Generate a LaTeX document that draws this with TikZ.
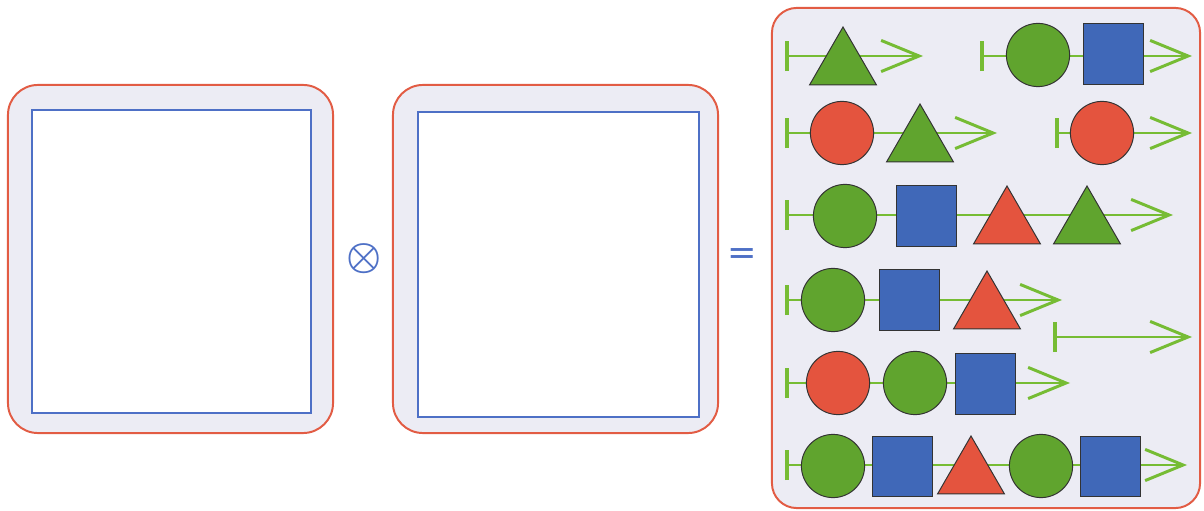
\documentclass[tikz,border=0pt]{standalone}
\usepackage{fontspec}
\usepackage{tikz}
\usetikzlibrary{shapes.geometric,arrows.meta}

\newfontfamily\opfont{DejaVu Sans}

\definecolor{bordred}{RGB}{226,92,68}
\definecolor{panelgray}{RGB}{236,236,244}
\definecolor{innerblue}{RGB}{78,112,198}
\definecolor{flowgreen}{RGB}{118,188,52}
\definecolor{sgreen}{RGB}{96,164,46}
\definecolor{sred}{RGB}{228,84,62}
\definecolor{sblue}{RGB}{64,104,184}

\begin{document}
\begin{tikzpicture}[
  x=0.025cm, y=-0.025cm,
  panel/.style={rectangle, rounded corners=0.75cm, draw=bordred, line width=1.4pt,
                fill=panelgray, inner sep=0pt},
  slot/.style={rectangle, draw=innerblue, line width=1pt, fill=white, inner sep=0pt},
  flow/.style={{Bar[width=0.75cm, line width=2.6pt]}-{Straight Barb[length=0.95cm, width=0.78cm]},
               draw=flowgreen, line width=2.1pt},
  item/.style={draw=black!80, line width=0.7pt, inner sep=0pt},
  circ/.style={item, circle, minimum size=1.58cm},
  sq/.style={item, rectangle, minimum size=1.5cm},
  tri/.style={item, regular polygon, regular polygon sides=3, minimum size=1.93cm,
              yshift=-0.24cm},
  op/.style={text=innerblue, inner sep=0pt}
]
\useasboundingbox (0,0) rectangle (1204,511);

%% Operand panels
\node[panel, minimum width=8.125cm, minimum height=8.7cm] (left) at (170.5,259) {};
\node[slot, minimum width=6.975cm, minimum height=7.575cm] (leftslot) at (171.5,261.5) {};
\node[panel, minimum width=8.125cm, minimum height=8.7cm] (mid) at (555.5,259) {};
\node[slot, minimum width=7.025cm, minimum height=7.625cm] (midslot) at (558.5,264.5) {};

%% Operators
\node[op, scale=2.8, font=\boldmath] (times) at (364,259) {$\otimes$};
\node[op, font=\opfont\fontsize{25}{25}\selectfont] (equals) at (742,257) {=};

%% Result panel
\node[panel, rounded corners=0.62cm, minimum width=10.7cm, minimum height=12.5cm]
  (result) at (986,258) {};

%% Row 1
\coordinate (s1a) at (785,56);  \coordinate (e1a) at (923,56);
\coordinate (s1b) at (980,56);  \coordinate (e1b) at (1192,56);
\draw[flow] (s1a) -- (e1a);
\draw[flow] (s1b) -- (e1b);
\node[tri, fill=sgreen] (t11) at (843,56) {};
\node[circ, fill=sgreen] (c12) at (1038,55) {};
\node[sq, fill=sblue] (q13) at (1113,54) {};

%% Row 2
\coordinate (s2a) at (785,133); \coordinate (e2a) at (997,133);
\coordinate (s2b) at (1055,133); \coordinate (e2b) at (1192,133);
\draw[flow] (s2a) -- (e2a);
\draw[flow] (s2b) -- (e2b);
\node[circ, fill=sred] (c21) at (842,133) {};
\node[tri, fill=sgreen] (t22) at (920,133) {};
\node[circ, fill=sred] (c23) at (1102,133) {};

%% Row 3
\coordinate (s3) at (785,215); \coordinate (e3) at (1173,215);
\draw[flow] (s3) -- (e3);
\node[circ, fill=sgreen] (c31) at (845,216) {};
\node[sq, fill=sblue] (q32) at (926,216) {};
\node[tri, fill=sred] (t33) at (1007,215) {};
\node[tri, fill=sgreen] (t34) at (1087,215) {};

%% Row 4
\coordinate (s4) at (785,300); \coordinate (e4) at (1062,300);
\draw[flow] (s4) -- (e4);
\node[circ, fill=sgreen] (c41) at (833,300) {};
\node[sq, fill=sblue] (q42) at (909,300) {};
\node[tri, fill=sred] (t43) at (987,300) {};

%% Empty word
\coordinate (s0) at (1053,337); \coordinate (e0) at (1192,337);
\draw[flow] (s0) -- (e0);

%% Row 5
\coordinate (s5) at (785,383); \coordinate (e5) at (1070,383);
\draw[flow] (s5) -- (e5);
\node[circ, fill=sred] (c51) at (838,383) {};
\node[circ, fill=sgreen] (c52) at (915,383) {};
\node[sq, fill=sblue] (q53) at (985,384) {};

%% Row 6
\coordinate (s6) at (785,465); \coordinate (e6) at (1187,465);
\draw[flow] (s6) -- (e6);
\node[circ, fill=sgreen] (c61) at (833,466) {};
\node[sq, fill=sblue] (q62) at (902,466) {};
\node[tri, fill=sred] (t63) at (971,465) {};
\node[circ, fill=sgreen] (c64) at (1041,466) {};
\node[sq, fill=sblue] (q65) at (1110,466) {};

\end{tikzpicture}
\end{document}
